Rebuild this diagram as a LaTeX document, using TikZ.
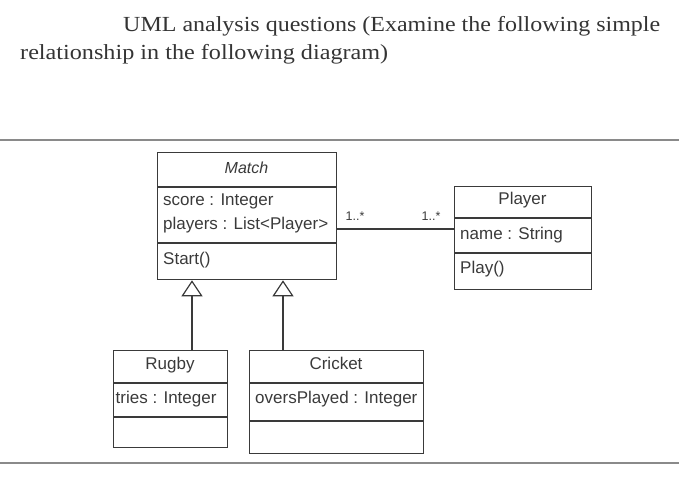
\documentclass[tikz,border=0pt]{standalone}
\usepackage{fontspec}
\usepackage{graphicx}
\setmainfont{Liberation Serif}
\newfontfamily\umlfont{Liberation Sans}
\usetikzlibrary{arrows.meta}
\definecolor{ink}{HTML}{3A3A3A}
\definecolor{rule}{HTML}{8A8A8A}
\tikzset{
  cls/.style={draw=ink, line width=1.3pt, anchor=north west, inner sep=0pt},
  sep/.style={draw=ink, line width=1.1pt},
  txt/.style={text=ink, font=\umlfont\fontsize{17}{20}\selectfont, inner sep=0pt, anchor=base west},
  ctr/.style={txt, anchor=base},
  mult/.style={text=ink, font=\umlfont\fontsize{12.5}{14}\selectfont, inner sep=0pt, anchor=base},
  gen/.style={draw=ink, line width=1.2pt, -{Triangle[open, width=21pt, length=16pt, line width=1.2pt]}},
  assoc/.style={draw=ink, line width=1.2pt},
  hrule/.style={draw=rule, line width=2.5pt},
  title/.style={text=ink!90!black, font=\fontsize{21.5}{25}\selectfont, inner sep=0pt, anchor=base west}
}
\begin{document}
\begin{tikzpicture}[x=1pt,y=-1pt]
\useasboundingbox (0,0) rectangle (679,476);
% title
\node[title] (t1) at (123,32) {\resizebox{537pt}{\height}{UML analysis questions (Examine the following simple}};
\node[title] (t2) at (20,60) {\resizebox{368pt}{\height}{relationship in the following diagram)}};
% rules
\coordinate (r1a) at (0,140); \coordinate (r1b) at (679,140);
\coordinate (r2a) at (0,463); \coordinate (r2b) at (679,463);
\draw[hrule] (r1a) -- (r1b);
\draw[hrule, line width=2pt] (r2a) -- (r2b);
% Match
\node[cls, minimum width=179pt, minimum height=127pt] (match) at (157,152) {};
\draw[sep] (157,187) -- (336,187);
\draw[sep] (157,243) -- (336,243);
\node[ctr, font=\umlfont\itshape\fontsize{16}{18}\selectfont] (mname) at (246.5,173) {Match};
\node[txt] (ma1) at (163,205) {score : Integer};
\node[txt] (ma2) at (163,229) {players : List<Player>};
\node[txt] (mo1) at (163,264) {Start()};
% Player
\node[cls, minimum width=137pt, minimum height=103pt] (player) at (454,186) {};
\draw[sep] (454,218) -- (591,218);
\draw[sep] (454,253) -- (591,253);
\node[ctr] (pname) at (522.5,204) {Player};
\node[txt] (pa1) at (460,239) {name : String};
\node[txt] (po1) at (460,273) {Play()};
% Rugby
\node[cls, minimum width=114pt, minimum height=97pt] (rugby) at (113,350) {};
\draw[sep] (113,383) -- (227,383);
\draw[sep] (113,417) -- (227,417);
\node[ctr] (rname) at (170,369) {Rugby};
\node[txt] (ra1) at (115.5,403) {tries : Integer};
% Cricket
\node[cls, minimum width=174pt, minimum height=103pt] (cricket) at (249,350) {};
\draw[sep] (249,383) -- (423,383);
\draw[sep] (249,421) -- (423,421);
\node[ctr] (cname) at (336,369) {Cricket};
\node[txt] (ca1) at (255,403) {oversPlayed : Integer};
% association
\draw[assoc] (match.east |- 0,229) -- (player.west |- 0,229);
\node[mult] (m1) at (355,220) {1..*};
\node[mult] (m2) at (431,220) {1..*};
% generalisation
\draw[gen] (rugby.north -| 192,0) -- (match.south -| 192,0);
\draw[gen] (cricket.north -| 283,0) -- (match.south -| 283,0);
\end{tikzpicture}
\end{document}
